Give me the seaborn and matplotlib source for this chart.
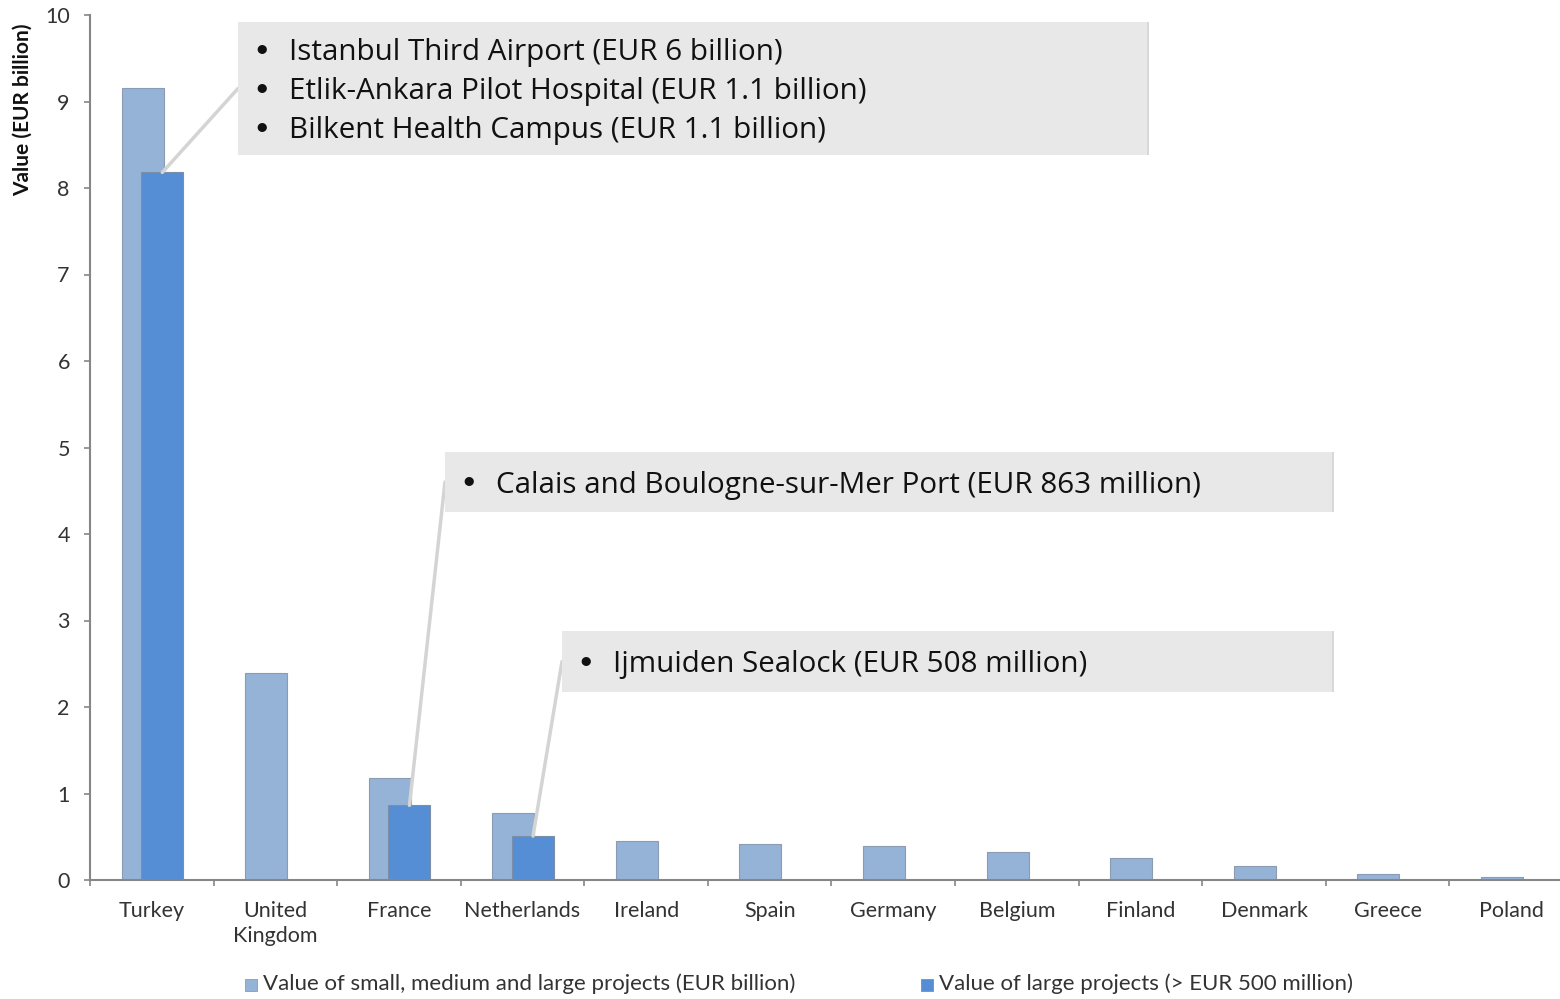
import matplotlib
matplotlib.use("Agg")
import matplotlib.pyplot as plt
import seaborn as sns
from matplotlib.patches import Rectangle, ConnectionPatch

# data
countries = ["Turkey", "United\nKingdom", "France", "Netherlands", "Ireland", "Spain",
             "Germany", "Belgium", "Finland", "Denmark", "Greece", "Poland"]
all_projects = [9.16, 2.39, 1.18, 0.77, 0.45, 0.42, 0.39, 0.32, 0.26, 0.16, 0.07, 0.03]
large_countries = ["Turkey", "France", "Netherlands"]
large_projects = [8.18, 0.863, 0.508]

legend_labels = ["Value of small, medium and large projects (EUR billion)",
                 "Value of large projects (> EUR 500 million)"]
callouts = [
    ["Istanbul Third Airport (EUR 6 billion)",
     "Etlik-Ankara Pilot Hospital (EUR 1.1 billion)",
     "Bilkent Health Campus (EUR 1.1 billion)"],
    ["Calais and Boulogne-sur-Mer Port (EUR 863 million)"],
    ["Ijmuiden Sealock (EUR 508 million)"],
]

light = "#95B3D7"
dark = "#558ED5"

sns.set_theme(style="white")
plt.rcParams["font.family"] = ["Lato", "DejaVu Sans"]

W, H = 1560, 999
fig = plt.figure(figsize=(W / 100, H / 100), dpi=100)

# axis spans pixels x 90..1573 (cropped at right), y 15..880
def fx(px):
    return px / W

def fy(py):
    return 1 - py / H

ax = fig.add_axes([fx(90), fy(880), fx(1573 - 90), (880 - 15) / H])

bar_w = 0.34
off_light = -0.075
off_dark = 0.085

sns.barplot(x=countries, y=all_projects, color=light, width=bar_w, saturation=1,
            edgecolor="#8a9bb3", linewidth=0.8, ax=ax, order=countries)
n_light = len(ax.patches)
for p in ax.patches:
    p.set_x(p.get_x() + off_light)

large_x = [countries.index(c) for c in large_countries]
# draw large-project bars on the same categorical axis
sns.barplot(x=[countries[i] for i in large_x], y=large_projects, color=dark, width=bar_w,
            saturation=1, edgecolor="#7b8fa8", linewidth=0.8, ax=ax, order=countries)
for p in ax.patches[n_light:]:
    p.set_x(p.get_x() + off_dark)

ax.set_xlim(-0.5, 11.5)
ax.set_ylim(0, 10)
ax.set_yticks(range(0, 11))
ax.set_xticks([i + 0.5 for i in range(-1, 12)], minor=True)
ax.set_xlabel("")
ax.set_ylabel("")

for s in ["top", "right"]:
    ax.spines[s].set_visible(False)
for s in ["left", "bottom"]:
    ax.spines[s].set_color("#868686")
    ax.spines[s].set_linewidth(1.5)

ax.tick_params(axis="y", which="major", direction="out", length=4.5, width=1.2,
               color="#868686", labelsize=15.5, labelcolor="#333333", pad=10, left=True)
ax.tick_params(axis="x", which="major", length=0, labelsize=15.5, labelcolor="#333333", pad=15)
ax.tick_params(axis="x", which="minor", direction="out", length=4.5, width=1.2,
               color="#868686", bottom=True)
for lbl in ax.get_xticklabels():
    lbl.set_linespacing(1.35)
    lbl.set_verticalalignment("top")

fig.text(fx(23), fy(110), "Value (EUR billion)", rotation=90, ha="center", va="center",
         fontsize=15, fontweight="bold", color="#111111")

# callout boxes (pixel layout) and leader lines to the large-project bars
boxes = [(238, 22, 1147, 155), (445, 452, 1332, 512), (562, 631, 1332, 692)]
line_gap = 39
for (x0, y0, x1, y1), lines, ci, val in zip(boxes, callouts, large_x, large_projects):
    fig.patches.append(Rectangle((fx(x1 - 2), fy(y1)), fx(4), (y1 - y0) / H,
                                 transform=fig.transFigure, facecolor="#d8d8d8",
                                 edgecolor="none", zorder=4))
    fig.patches.append(Rectangle((fx(x0), fy(y1)), fx(x1 - x0), (y1 - y0) / H,
                                 transform=fig.transFigure, facecolor="#E8E8E8",
                                 edgecolor="none", zorder=5))
    cy = (y0 + y1) / 2
    n = len(lines)
    for k, t in enumerate(lines):
        ty = cy + (k - (n - 1) / 2) * line_gap
        fig.text(fx(x0 + 24), fy(ty), "\u2022", fontsize=18, ha="center", va="center",
                 color="#111111", zorder=6)
        fig.text(fx(x0 + 51), fy(ty + 3), t, fontsize=21.3, ha="left", va="center",
                 color="#111111", zorder=6, family=["Open Sans", "DejaVu Sans"])
    con = ConnectionPatch(xyA=(fx(x0), fy(cy)), coordsA=fig.transFigure,
                          xyB=(ci + off_dark, val), coordsB=ax.transData,
                          color="#d4d4d4", linewidth=2.5, zorder=3)
    fig.add_artist(con)

# legend
fig.patches.append(Rectangle((fx(245), fy(991)), fx(12), 12 / H, transform=fig.transFigure,
                             facecolor=light, edgecolor="#8a9bb3", linewidth=0.6))
fig.text(fx(263), fy(984), legend_labels[0], fontsize=16, ha="left", va="center",
         color="#333333")
fig.patches.append(Rectangle((fx(921), fy(991)), fx(12), 12 / H, transform=fig.transFigure,
                             facecolor=dark, edgecolor="#7b8fa8", linewidth=0.6))
fig.text(fx(939), fy(984), legend_labels[1], fontsize=16, ha="left", va="center",
         color="#333333")

fig.savefig("out.png", dpi=100)
